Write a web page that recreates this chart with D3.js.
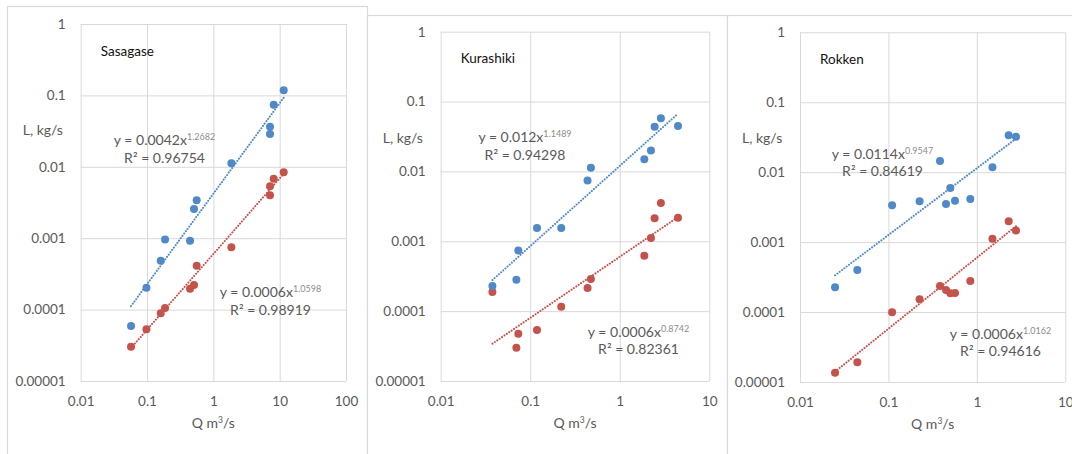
<!DOCTYPE html>
<html>
<head>
<meta charset="utf-8">
<script src="https://cdn.jsdelivr.net/npm/d3@7"></script>
<style>
  body { margin: 0; background: #fff; }
  text { font-family: Lato, "Open Sans", sans-serif; }
</style>
</head>
<body>
<svg id="chart" width="1072" height="454"></svg>
<script>
// discharge Q (m3/s) and loads L (kg/s)
const sasagaseQ = [0.0574, 0.098, 0.161, 0.187, 0.445, 0.511, 0.561, 1.87, 7.15, 7.15, 8.13, 11.5];
const sasagaseLoadBlue = [5.9e-5, 2.03e-4, 4.85e-4, 9.6e-4, 9.2e-4, 2.56e-3, 3.39e-3, 0.0112, 0.0288, 0.0365, 0.0742, 0.118];
const sasagaseLoadRed = [3.03e-5, 5.3e-5, 8.9e-5, 1.05e-4, 1.96e-4, 2.21e-4, 4.12e-4, 7.45e-4, 3.98e-3, 5.33e-3, 6.82e-3, 8.36e-3];

const kurashikiQ = [0.0378, 0.070, 0.0736, 0.119, 0.222, 0.437, 0.476, 1.88, 2.23, 2.45, 2.88, 4.47];
const kurashikiLoadBlue = [2.29e-4, 2.82e-4, 7.4e-4, 1.55e-3, 1.55e-3, 7.4e-3, 0.0113, 0.0149, 0.0200, 0.0437, 0.0575, 0.0446];
const kurashikiLoadRed = [1.88e-4, 3.0e-5, 4.76e-5, 5.37e-5, 1.16e-4, 2.14e-4, 2.88e-4, 6.22e-4, 1.11e-3, 2.13e-3, 3.53e-3, 2.18e-3];

const rokkenQ = [0.0249, 0.0445, 0.110, 0.225, 0.383, 0.448, 0.501, 0.566, 0.843, 1.50, 2.29, 2.77];
const rokkenLoadBlue = [2.26e-4, 4.0e-4, 3.36e-3, 3.83e-3, 0.01445, 3.51e-3, 5.94e-3, 3.92e-3, 4.14e-3, 0.01174, 0.0337, 0.0322];
const rokkenLoadRed = [1.36e-5, 1.91e-5, 9.9e-5, 1.52e-4, 2.36e-4, 2.07e-4, 1.85e-4, 1.87e-4, 2.78e-4, 1.12e-3, 1.98e-3, 1.47e-3];

// power trendlines: [coefficient, exponent, R²]
const sasagaseTrendBlue = [0.0042, 1.2682, "0.96754"];
const sasagaseTrendRed = [0.0006, 1.0598, "0.98919"];
const kurashikiTrendBlue = [0.012, 1.1489, "0.94298"];
const kurashikiTrendRed = [0.0006, 0.8742, "0.82361"];
const rokkenTrendBlue = [0.0114, 0.9547, "0.84619"];
const rokkenTrendRed = [0.0006, 1.0162, "0.94616"];

const siteNames = ["Sasagase", "Kurashiki", "Rokken"];
const xTickLabelsWide = ["0.01", "0.1", "1", "10", "100"];
const xTickLabelsNarrow = ["0.01", "0.1", "1", "10"];
const yTickLabels = ["0.00001", "0.0001", "0.001", "0.01", "0.1", "1"];

const blue = "#5089c8";
const red = "#c4534c";
const gridColor = "#d9d9d9";
const textColor = "#595959";

const svg = d3.select("#chart");

// panel frames and plot boxes
const panels = [
  {
    name: siteNames[0], q: sasagaseQ, blue: sasagaseLoadBlue, red: sasagaseLoadRed,
    trendBlue: sasagaseTrendBlue, trendRed: sasagaseTrendRed, xTicks: xTickLabelsWide,
    frame: { x: 7, y: 6, w: 360 },
    plot: { l: 80.7, r: 346, t: 24, b: 381 },
    eqBlue: [164.5, 145], eqRed: [270.5, 297]
  },
  {
    name: siteNames[1], q: kurashikiQ, blue: kurashikiLoadBlue, red: kurashikiLoadRed,
    trendBlue: kurashikiTrendBlue, trendRed: kurashikiTrendRed, xTicks: xTickLabelsNarrow,
    frame: { x: 367, y: 15, w: 360 },
    plot: { l: 440.7, r: 709.3, t: 31.7, b: 381 },
    eqBlue: [525, 142], eqRed: [638.5, 336.5]
  },
  {
    name: siteNames[2], q: rokkenQ, blue: rokkenLoadBlue, red: rokkenLoadRed,
    trendBlue: rokkenTrendBlue, trendRed: rokkenTrendRed, xTicks: xTickLabelsNarrow,
    frame: { x: 727, y: 15, w: 400 },
    plot: { l: 800, r: 1065.3, t: 32.3, b: 382 },
    eqBlue: [882.5, 158.5], eqRed: [1000.5, 338.5]
  }
];

panels.forEach((p) => {
  svg
    .append("rect")
    .attr("x", p.frame.x + 0.5)
    .attr("y", p.frame.y + 0.5)
    .attr("width", p.frame.w)
    .attr("height", 500)
    .attr("fill", "#fff")
    .attr("stroke", gridColor)
    .attr("stroke-width", 1.2);
});

panels.forEach((p) => {
  const xVals = p.xTicks.map(Number);
  const yVals = yTickLabels.map(Number);
  const x = d3.scaleLog().domain(d3.extent(xVals)).range([p.plot.l, p.plot.r]);
  const y = d3.scaleLog().domain(d3.extent(yVals)).range([p.plot.b, p.plot.t]);
  const w = p.plot.r - p.plot.l;
  const h = p.plot.b - p.plot.t;

  const g = svg.append("g");

  // gridlines
  g.append("g")
    .attr("transform", `translate(0,${p.plot.b})`)
    .call(d3.axisBottom(x).tickValues(xVals).tickSize(-h).tickFormat(""))
    .call((a) => a.select(".domain").remove())
    .selectAll("line")
    .attr("stroke", gridColor);

  g.append("g")
    .attr("transform", `translate(${p.plot.l},0)`)
    .call(d3.axisLeft(y).tickValues(yVals).tickSize(-w).tickFormat(""))
    .call((a) => a.select(".domain").remove())
    .selectAll("line")
    .attr("stroke", gridColor);

  // tick labels
  const xAxis = g
    .append("g")
    .attr("transform", `translate(0,${p.plot.b})`)
    .call(d3.axisBottom(x).tickValues(xVals).tickSize(0).tickPadding(15)
      .tickFormat((d, i) => p.xTicks[i]));
  xAxis.select(".domain").remove();
  xAxis.selectAll("text")
    .attr("fill", textColor)
    .attr("font-size", "13.5px")
    .attr("font-family", "Lato, sans-serif");

  const yAxis = g
    .append("g")
    .attr("transform", `translate(${p.plot.l},0)`)
    .call(d3.axisLeft(y).tickValues(yVals).tickSize(0).tickPadding(15)
      .tickFormat((d, i) => yTickLabels[i]));
  yAxis.select(".domain").remove();
  yAxis.selectAll("text")
    .attr("fill", textColor)
    .attr("font-size", "13.5px")
    .attr("font-family", "Lato, sans-serif");

  // axis titles
  const qTitle = g
    .append("text")
    .attr("x", (p.plot.l + p.plot.r) / 2)
    .attr("y", p.plot.b + 47)
    .attr("text-anchor", "middle")
    .attr("fill", textColor)
    .attr("font-size", "14px");
  qTitle.append("tspan").text("Q m");
  qTitle.append("tspan").attr("font-size", "8.5px").attr("dy", -5).text("3");
  qTitle.append("tspan").attr("dy", 5).text("/s");

  g.append("text")
    .attr("x", p.plot.l - 58)
    .attr("y", p.plot.t + 111)
    .attr("fill", textColor)
    .attr("font-size", "14px")
    .text("L, kg/s");

  g.append("text")
    .attr("x", p.plot.l + 20)
    .attr("y", p.plot.t + 31.5)
    .attr("fill", "#111")
    .attr("font-size", "13.5px")
    .text(p.name);

  // trendlines (Excel power fit, drawn over the span of Q)
  const qRange = d3.extent(p.q);
  const line = d3.line().x((d) => x(d[0])).y((d) => y(d[1]));
  [[p.trendBlue, blue], [p.trendRed, red]].forEach(([t, color]) => {
    const ends = qRange.map((q) => [q, t[0] * Math.pow(q, t[1])]);
    g.append("path")
      .attr("d", line(ends))
      .attr("fill", "none")
      .attr("stroke", color)
      .attr("stroke-width", 2)
      .attr("stroke-linecap", "round")
      .attr("stroke-dasharray", "0.1,2.8");
  });

  // markers
  [[p.red, red], [p.blue, blue]].forEach(([vals, color]) => {
    g.append("g")
      .selectAll("circle")
      .data(vals)
      .join("circle")
      .attr("cx", (d, i) => x(p.q[i]))
      .attr("cy", (d) => y(d))
      .attr("r", 4)
      .attr("fill", color);
  });

  // equation labels
  [[p.trendBlue, p.eqBlue], [p.trendRed, p.eqRed]].forEach(([t, pos]) => {
    const eq = g
      .append("text")
      .attr("x", pos[0])
      .attr("y", pos[1])
      .attr("text-anchor", "middle")
      .attr("fill", textColor)
      .attr("font-size", "14px");
    eq.append("tspan").text(`y = ${t[0]}x`);
    eq.append("tspan")
      .attr("dy", -5)
      .attr("font-size", "9px")
      .attr("fill", "#8c8c8c")
      .text(t[1].toFixed(4));

    g.append("text")
      .attr("x", pos[0])
      .attr("y", pos[1] + 17.5)
      .attr("text-anchor", "middle")
      .attr("fill", textColor)
      .attr("font-size", "14px")
      .text(`R² = ${t[2]}`);
  });
});
</script>
</body>
</html>
